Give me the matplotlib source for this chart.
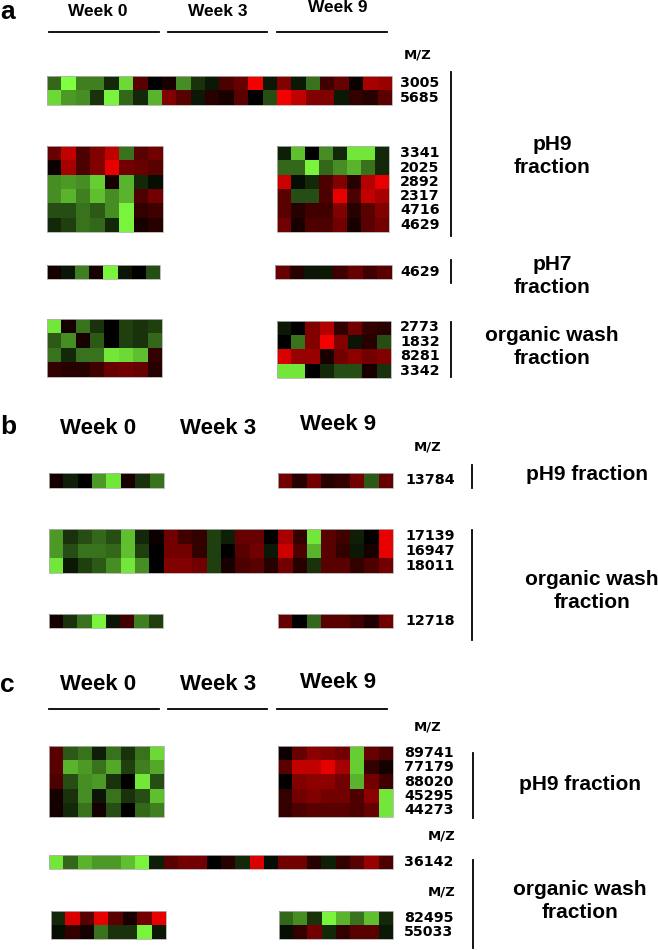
import numpy as np
import matplotlib
matplotlib.use("Agg")
import matplotlib.pyplot as plt
from matplotlib.colors import LinearSegmentedColormap

# cell values: -1 = bright green, 0 = black, +1 = bright red
# ---- panel a ----
a_top_mz = ["3005", "5685"]
a_top = [
    [-0.4, -1.0, -0.5, -0.5, -0.15, -0.85, 0.35, 0.0, 0.1, -0.55, -0.2, -0.1,
     0.3, 0.4, 0.95, -0.1, 0.5, -0.1, -0.45, 0.25, 0.4, 0.05, 0.65, 0.6],
    [-0.85, -0.6, -0.55, -0.2, -0.95, -0.4, -0.15, -0.7, 0.5, 0.35, -0.1, 0.15,
     0.1, 0.35, 0.0, -0.3, 0.95, 0.75, 0.5, 0.5, -0.1, 0.2, 0.15, 0.35],
]
a_ph9_mz = ["3341", "2025", "2892", "2317", "4716", "4629"]
a_ph9_w0 = [
    [0.4, 0.75, 0.3, 0.5, 0.75, -0.45, 0.35, 0.45],
    [0.05, 0.65, 0.3, 0.5, 0.9, 0.45, 0.4, 0.35],
    [-0.55, -0.6, -0.55, -0.8, 0.1, -0.7, -0.15, -0.05],
    [-0.55, -0.7, -0.5, -0.75, -0.55, -0.7, 0.3, 0.45],
    [-0.3, -0.3, -0.45, -0.35, -0.55, -0.95, 0.2, 0.25],
    [-0.15, -0.25, -0.45, -0.4, -0.15, -0.95, 0.1, 0.15],
]
a_ph9_w9 = [
    [-0.12, -0.75, 0.0, -0.55, -0.15, -0.9, -0.9, -0.15],
    [-0.4, -0.4, -0.95, -0.4, -0.55, -0.7, -0.45, -0.15],
    [0.8, -0.05, -0.15, 0.3, 0.5, 0.15, 0.7, 0.9],
    [0.35, -0.3, -0.3, 0.3, 0.9, 0.3, 0.75, 0.65],
    [0.35, 0.15, 0.25, 0.25, 0.5, 0.15, 0.35, 0.5],
    [0.45, 0.1, 0.3, 0.3, 0.45, 0.1, 0.35, 0.45],
]
a_ph7_mz = ["4629"]
a_ph7_w0 = [[0.08, -0.08, -0.5, 0.1, -0.95, -0.08, 0.0, -0.3]]
a_ph7_w9 = [[0.4, 0.15, -0.08, -0.1, 0.25, 0.4, 0.25, 0.35]]
a_org_mz = ["2773", "1832", "8281", "3342"]
a_org_w0 = [
    [-0.9, 0.08, -0.45, -0.2, 0.0, -0.25, -0.2, -0.25],
    [-0.35, -0.55, 0.1, -0.35, 0.0, -0.25, -0.2, -0.4],
    [-0.45, -0.15, -0.45, -0.45, -0.9, -0.85, -0.75, 0.2],
    [0.2, 0.15, 0.15, 0.25, 0.4, 0.45, 0.4, 0.15],
]
a_org_w9 = [
    [-0.1, 0.0, 0.5, 0.7, 0.2, 0.45, 0.2, 0.15],
    [0.0, -0.45, 0.5, 0.95, 0.5, -0.08, 0.15, -0.3],
    [0.85, 0.6, 0.6, 0.1, 0.45, 0.55, 0.45, 0.5],
    [-0.9, -0.9, 0.0, -0.15, -0.3, -0.3, 0.1, -0.2],
]

# ---- panel b ----
b_ph9_mz = ["13784"]
b_ph9_w0 = [[0.08, -0.12, 0.0, -0.6, -0.9, 0.1, -0.2, -0.45]]
b_ph9_w9 = [[0.45, 0.15, 0.45, 0.15, 0.2, 0.45, -0.35, 0.4]]
b_org_mz = ["17139", "16947", "18011"]
b_org = [
    [-0.6, -0.2, -0.3, -0.4, -0.3, -0.75, -0.15, 0.05, 0.45, 0.25, 0.2, -0.25,
     -0.12, 0.4, 0.4, 0.0, 0.65, 0.2, -0.9, 0.35, 0.25, -0.12, 0.0, 0.9],
    [-0.6, -0.3, -0.45, -0.45, -0.4, -0.75, -0.25, 0.0, 0.45, 0.45, 0.2, -0.25,
     0.0, 0.35, 0.45, -0.1, 0.8, 0.3, -0.7, 0.35, 0.2, -0.1, 0.1, 0.9],
    [-0.9, -0.1, -0.25, -0.35, -0.55, -0.9, -0.55, 0.0, 0.5, 0.5, 0.45, -0.25,
     0.1, 0.3, 0.35, 0.15, 0.45, 0.15, -0.2, 0.35, 0.35, 0.2, 0.3, 0.45],
]
b_org2_mz = ["12718"]
b_org2_w0 = [[0.08, -0.2, -0.45, -0.95, -0.08, 0.25, -0.5, -0.25]]
b_org2_w9 = [[0.4, 0.0, -0.4, 0.35, 0.35, 0.25, 0.12, 0.45]]

# ---- panel c ----
c_ph9_mz = ["89741", "77179", "88020", "45295", "44273"]
c_ph9_w0 = [
    [0.35, -0.35, -0.45, -0.12, -0.45, -0.2, -0.45, -0.85],
    [0.35, -0.7, -0.6, -0.45, -0.65, -0.25, -0.5, -0.65],
    [0.3, -0.3, -0.55, -0.6, -0.2, 0.0, -0.9, -0.3],
    [0.08, -0.2, -0.55, -0.08, -0.45, -0.2, -0.3, -0.75],
    [0.08, -0.15, -0.45, 0.08, -0.3, 0.0, -0.4, -0.5],
]
c_ph9_w9 = [
    [0.05, 0.4, 0.55, 0.5, 0.45, -0.8, 0.4, 0.3],
    [0.35, 0.75, 0.75, 0.9, 0.65, -0.8, 0.2, 0.08],
    [0.0, 0.5, 0.55, 0.55, 0.45, -0.7, 0.45, 0.25],
    [0.2, 0.45, 0.5, 0.45, 0.45, 0.3, 0.55, -0.9],
    [0.2, 0.3, 0.35, 0.35, 0.35, 0.3, 0.4, -0.9],
]
c_org_mz = ["36142"]
c_org = [[-0.9, -0.4, -0.7, -0.6, -0.6, -0.75, -0.95, -0.12, 0.35, 0.45, 0.45, 0.0,
          0.15, -0.15, 0.85, -0.05, 0.45, 0.45, 0.15, -0.12, 0.2, 0.35, 0.6, 0.3]]
c_org2_mz = ["82495", "55033"]
c_org2_w0 = [
    [-0.15, 0.85, 0.35, 0.9, 0.35, 0.1, 0.45, 0.9],
    [-0.05, 0.2, 0.08, -0.45, -0.2, -0.2, -0.95, -0.1],
]
c_org2_w9 = [
    [-0.4, -0.55, -0.2, -0.95, -0.7, -0.45, -0.75, -0.15],
    [-0.05, 0.2, 0.45, -0.15, 0.2, 0.35, 0.35, -0.1],
]

weeks = ["Week 0", "Week 3", "Week 9"]

cmap = LinearSegmentedColormap.from_list(
    "gr", [(0.5, 1.0, 0.25), (0.0, 0.0, 0.0), (1.0, 0.0, 0.0)])

fig = plt.figure(figsize=(6.58, 9.5), dpi=100)
ax = fig.add_axes([0, 0, 1, 1])
ax.set_xlim(0, 658)
ax.set_ylim(950, 0)
ax.axis("off")

SANS = "Liberation Sans"
NUM = "DejaVu Sans"


def block(data, x0, x1, y0, y1):
    ax.imshow(np.array(data), cmap=cmap, vmin=-1, vmax=1, interpolation="nearest",
              extent=(x0, x1, y1, y0), aspect="auto")
    ax.add_patch(plt.Rectangle((x0, y0), x1 - x0, y1 - y0, fill=False,
                               ec="#b0b0b0", lw=0.6))


def labels(mz, x, y0, y1):
    h = (y1 - y0) / len(mz)
    for i, m in enumerate(mz):
        ax.text(x, y0 + (i + 0.5) * h, m, family=NUM, weight="bold", fontsize=10.3,
                va="center", ha="left")


def header(letter, ly, wy, fs, lines_y=None):
    ax.text(0, ly, letter, family=SANS, weight="bold", fontsize=19, va="center")
    for w, cx, dy in zip(weeks, [98, 218, 338], [0, 0, -3]):
        ax.text(cx, wy + dy, w, family=SANS, weight="bold", fontsize=fs,
                ha="center", va="center")
    if lines_y is not None:
        for xa, xb in [(49, 159), (168, 267), (277, 387)]:
            ax.plot([xa, xb], [lines_y, lines_y], color="black", lw=1.3)


def bracket(x, ya, yb):
    ax.plot([x, x], [ya, yb], color="black", lw=1.3)


def mz_head(x, y):
    ax.text(x, y, "M/Z", family=NUM, weight="bold", fontsize=9.5, ha="center", va="center")


def frac(x, y, s):
    ax.text(x, y, s, family=SANS, weight="bold", fontsize=15, ha="center",
            va="center", linespacing=1.25)


# ---- panel a ----
header("a", 12, 11, 12.5, lines_y=32)
mz_head(418, 55)
block(a_top, 47, 392, 76, 105)
labels(a_top_mz, 400, 76, 105)
block(a_ph9_w0, 47, 163, 146, 232)
block(a_ph9_w9, 277, 389, 146, 232)
labels(a_ph9_mz, 400, 146, 232)
block(a_ph7_w0, 47, 160, 265, 279)
block(a_ph7_w9, 275, 392, 265, 279)
labels(a_ph7_mz, 400, 265, 279)
block(a_org_w0, 47, 162, 319, 377)
block(a_org_w9, 277, 391, 321, 378)
labels(a_org_mz, 400, 320, 378)
bracket(451, 72, 236)
bracket(451, 260, 283)
bracket(451, 322, 377)
frac(552, 156, "pH9\nfraction")
frac(552, 276, "pH7\nfraction")
frac(552, 347, "organic wash\nfraction")

# ---- panel b ----
header("b", 427, 428, 16)
mz_head(428, 447)
block(b_ph9_w0, 49, 164, 473, 488)
block(b_ph9_w9, 278, 393, 473, 488)
labels(b_ph9_mz, 405, 473, 488)
block(b_org, 49, 393, 529, 573)
labels(b_org_mz, 405, 529, 573)
block(b_org2_w0, 49, 163, 614, 628)
block(b_org2_w9, 278, 393, 614, 628)
labels(b_org2_mz, 405, 614, 628)
bracket(472, 465, 488)
bracket(472, 530, 640)
frac(587, 475, "pH9 fraction")
frac(592, 591, "organic wash\nfraction")

# ---- panel c ----
header("c", 685, 685, 16, lines_y=709)
mz_head(428, 727)
block(c_ph9_w0, 49, 164, 746, 817)
block(c_ph9_w9, 278, 393, 746, 817)
labels(c_ph9_mz, 404, 746, 817)
mz_head(442, 836)
block(c_org, 49, 393, 855, 869)
labels(c_org_mz, 404, 855, 869)
mz_head(442, 892)
block(c_org2_w0, 51, 166, 911, 939)
block(c_org2_w9, 279, 393, 911, 939)
labels(c_org2_mz, 404, 911, 939)
bracket(473, 753, 818)
bracket(473, 860, 948)
frac(580, 785, "pH9 fraction")
frac(580, 901, "organic wash\nfraction")

fig.savefig("out.png", dpi=100)
